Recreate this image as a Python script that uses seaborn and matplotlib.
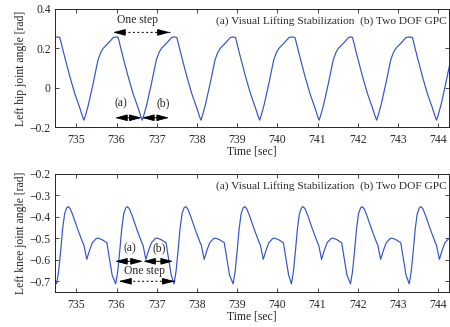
import matplotlib
matplotlib.use("Agg")
import matplotlib.pyplot as plt
import seaborn as sns
import numpy as np
import pandas as pd

# ---------------- data ----------------
hip_time = [
    734.46, 734.53,
    734.59, 734.71, 734.84, 734.96, 735.09, 735.16, 735.19, 735.23, 735.30, 735.42, 735.54, 735.61, 735.67, 735.83, 735.92, 735.99,
    736.04, 736.16, 736.29, 736.41, 736.54, 736.61, 736.64, 736.68, 736.75, 736.87, 736.99, 737.06, 737.12, 737.28, 737.37, 737.44,
    737.50, 737.62, 737.75, 737.87, 738.00, 738.07, 738.10, 738.14, 738.21, 738.33, 738.45, 738.52, 738.58, 738.74, 738.83, 738.90,
    738.96, 739.08, 739.21, 739.33, 739.46, 739.53, 739.56, 739.60, 739.67, 739.79, 739.91, 739.98, 740.04, 740.20, 740.29, 740.36,
    740.44, 740.56, 740.69, 740.81, 740.94, 741.01, 741.04, 741.08, 741.15, 741.27, 741.39, 741.46, 741.52, 741.68, 741.77, 741.84,
    741.87, 741.99, 742.12, 742.24, 742.37, 742.44, 742.47, 742.51, 742.58, 742.70, 742.82, 742.89, 742.95, 743.11, 743.20, 743.27,
    743.36, 743.48, 743.61, 743.73, 743.86, 743.93, 743.96, 744.00, 744.07, 744.19, 744.31, 744.38,
]
hip_angle = [
    0.256, 0.258,
    0.255, 0.157, 0.056, -0.029, -0.105, -0.150, -0.165, -0.140, -0.088, 0.022, 0.141, 0.180, 0.200, 0.234, 0.255, 0.258,
    0.255, 0.157, 0.056, -0.029, -0.105, -0.150, -0.165, -0.140, -0.088, 0.022, 0.141, 0.180, 0.200, 0.234, 0.255, 0.258,
    0.255, 0.157, 0.056, -0.029, -0.105, -0.150, -0.165, -0.140, -0.088, 0.022, 0.141, 0.180, 0.200, 0.234, 0.255, 0.258,
    0.255, 0.157, 0.056, -0.029, -0.105, -0.150, -0.165, -0.140, -0.088, 0.022, 0.141, 0.180, 0.200, 0.234, 0.255, 0.258,
    0.255, 0.157, 0.056, -0.029, -0.105, -0.150, -0.165, -0.140, -0.088, 0.022, 0.141, 0.180, 0.200, 0.234, 0.255, 0.258,
    0.255, 0.157, 0.056, -0.029, -0.105, -0.150, -0.165, -0.140, -0.088, 0.022, 0.141, 0.180, 0.200, 0.234, 0.255, 0.258,
    0.255, 0.157, 0.056, -0.029, -0.105, -0.150, -0.165, -0.140, -0.088, 0.022, 0.141, 0.180,
]

knee_time = [
    734.46,
    734.51, 734.56, 734.61, 734.66, 734.71, 734.76, 734.80, 734.85, 734.92, 735.04, 735.16, 735.19, 735.26, 735.33, 735.40, 735.50, 735.54, 735.63, 735.76, 735.83, 735.89,
    735.98, 736.03, 736.08, 736.13, 736.18, 736.23, 736.27, 736.32, 736.39, 736.51, 736.63, 736.66, 736.73, 736.80, 736.87, 736.97, 737.01, 737.10, 737.23, 737.30, 737.36,
    737.43, 737.48, 737.53, 737.58, 737.63, 737.68, 737.72, 737.77, 737.84, 737.96, 738.08, 738.11, 738.18, 738.25, 738.32, 738.42, 738.46, 738.55, 738.68, 738.75, 738.81,
    738.90, 738.95, 739.00, 739.05, 739.10, 739.15, 739.19, 739.24, 739.31, 739.43, 739.55, 739.58, 739.65, 739.72, 739.79, 739.89, 739.93, 740.02, 740.15, 740.22, 740.28,
    740.35, 740.40, 740.45, 740.50, 740.55, 740.60, 740.64, 740.69, 740.76, 740.88, 741.00, 741.03, 741.10, 741.17, 741.24, 741.34, 741.38, 741.47, 741.60, 741.67, 741.73,
    741.82, 741.87, 741.92, 741.97, 742.02, 742.07, 742.11, 742.16, 742.23, 742.35, 742.47, 742.50, 742.57, 742.64, 742.71, 742.81, 742.85, 742.94, 743.07, 743.14, 743.20,
    743.28, 743.33, 743.38, 743.43, 743.48, 743.53, 743.57, 743.62, 743.69, 743.81, 743.93, 743.96, 744.03, 744.10, 744.17, 744.27, 744.31,
]
knee_angle = [
    -0.690,
    -0.712, -0.655, -0.560, -0.455, -0.385, -0.358, -0.352, -0.362, -0.395, -0.460, -0.520, -0.532, -0.598, -0.555, -0.520, -0.500, -0.499, -0.505, -0.520, -0.600, -0.670,
    -0.712, -0.655, -0.560, -0.455, -0.385, -0.358, -0.352, -0.362, -0.395, -0.460, -0.520, -0.532, -0.598, -0.555, -0.520, -0.500, -0.499, -0.505, -0.520, -0.600, -0.670,
    -0.712, -0.655, -0.560, -0.455, -0.385, -0.358, -0.352, -0.362, -0.395, -0.460, -0.520, -0.532, -0.598, -0.555, -0.520, -0.500, -0.499, -0.505, -0.520, -0.600, -0.670,
    -0.712, -0.655, -0.560, -0.455, -0.385, -0.358, -0.352, -0.362, -0.395, -0.460, -0.520, -0.532, -0.598, -0.555, -0.520, -0.500, -0.499, -0.505, -0.520, -0.600, -0.670,
    -0.712, -0.655, -0.560, -0.455, -0.385, -0.358, -0.352, -0.362, -0.395, -0.460, -0.520, -0.532, -0.598, -0.555, -0.520, -0.500, -0.499, -0.505, -0.520, -0.600, -0.670,
    -0.712, -0.655, -0.560, -0.455, -0.385, -0.358, -0.352, -0.362, -0.395, -0.460, -0.520, -0.532, -0.598, -0.555, -0.520, -0.500, -0.499, -0.505, -0.520, -0.600, -0.670,
    -0.712, -0.655, -0.560, -0.455, -0.385, -0.358, -0.352, -0.362, -0.395, -0.460, -0.520, -0.532, -0.598, -0.555, -0.520, -0.500, -0.499,
]

x_ticks = [735, 736, 737, 738, 739, 740, 741, 742, 743, 744]
hip_yticks = [-0.2, 0, 0.2, 0.4]
knee_yticks = [-0.7, -0.6, -0.5, -0.4, -0.3, -0.2]
hip_ylabel = "Left hip joint angle [rad]"
knee_ylabel = "Left knee joint angle [rad]"
x_label = "Time [sec]"
legend_text = "(a) Visual Lifting Stabilization  (b) Two DOF GPC"

# ---------------- style ----------------
sns.set_style("ticks")
plt.rcParams["font.family"] = ["Liberation Serif", "DejaVu Serif"]
plt.rcParams["axes.unicode_minus"] = True
LINE = "#3354c6"
FS = 8.4

fig = plt.figure(figsize=(4.5, 3.27), dpi=100)
ax1 = fig.add_axes([0.1222, 0.6116, 0.8756, 0.3609])
ax2 = fig.add_axes([0.1222, 0.1070, 0.8756, 0.3609])

hip_df = pd.DataFrame({"t": hip_time, "v": hip_angle})
knee_df = pd.DataFrame({"t": knee_time, "v": knee_angle})
sns.lineplot(data=hip_df, x="t", y="v", ax=ax1, color=LINE, lw=0.85, estimator=None, sort=False)
sns.lineplot(data=knee_df, x="t", y="v", ax=ax2, color=LINE, lw=0.85, estimator=None, sort=False)


def fmt(v):
    if abs(v) < 1e-9:
        return "0"
    return ("%g" % v).replace("-", "\u2212")


for ax, yt, yl, ylim in ((ax1, hip_yticks, hip_ylabel, (-0.2, 0.4)),
                          (ax2, knee_yticks, knee_ylabel, (-0.75, -0.2))):
    ax.set_xlim(734.47, 744.27)
    ax.set_ylim(*ylim)
    ax.set_xticks(x_ticks)
    ax.set_xticklabels([str(t) for t in x_ticks], fontsize=FS)
    ax.set_yticks(yt)
    ax.set_yticklabels([fmt(v) for v in yt], fontsize=FS)
    ax.tick_params(axis="x", direction="in", top=True, length=3, width=0.6, pad=5)
    ax.tick_params(axis="y", direction="in", right=True, length=3, width=0.6, pad=3)
    for s in ax.spines.values():
        s.set_visible(True)
        s.set_linewidth(0.7)
    ax.set_xlabel(x_label, fontsize=FS, labelpad=0)
    ax.set_ylabel(yl, fontsize=FS, labelpad=2)
    ax.text(0.993, 0.94, legend_text, transform=ax.transAxes, ha="right", va="top", fontsize=FS - 0.2)

head = dict(arrowstyle="-|>,head_length=0.75,head_width=0.2", color="black", lw=0.7,
            shrinkA=0, shrinkB=0)
dbl = dict(arrowstyle="<|-|>,head_length=0.75,head_width=0.2", color="black", lw=0.7,
           shrinkA=0, shrinkB=0)


def dotted_double(ax, x0, x1, y):
    ax.annotate("", xy=(x0, y), xytext=(x1, y),
                arrowprops=dict(arrowstyle="-", color="black", lw=0.8, ls=(0, (1, 3)),
                                shrinkA=0, shrinkB=0))
    ax.annotate("", xy=(x0, y), xytext=(x0 + 0.25, y), arrowprops=head)
    ax.annotate("", xy=(x1, y), xytext=(x1 - 0.25, y), arrowprops=head)


# top panel annotations
dotted_double(ax1, 735.91, 737.33, 0.281)
ax1.text(736.53, 0.344, "One step", ha="center", va="center", fontsize=FS)
ax1.annotate("", xy=(735.96, -0.153), xytext=(736.63, -0.153), arrowprops=dbl)
ax1.annotate("", xy=(736.63, -0.153), xytext=(737.31, -0.153), arrowprops=dbl)
ax1.text(736.12, -0.08, "(a)", ha="center", va="center", fontsize=FS)
ax1.text(737.16, -0.08, "(b)", ha="center", va="center", fontsize=FS)

# bottom panel annotations
ax2.annotate("", xy=(735.96, -0.607), xytext=(736.66, -0.607), arrowprops=dbl)
ax2.annotate("", xy=(736.66, -0.607), xytext=(737.41, -0.607), arrowprops=dbl)
ax2.text(736.33, -0.545, "(a)", ha="center", va="center", fontsize=FS)
ax2.text(737.06, -0.545, "(b)", ha="center", va="center", fontsize=FS)
ax2.text(736.70, -0.652, "One step", ha="center", va="center", fontsize=FS)
dotted_double(ax2, 736.06, 737.45, -0.700)

fig.savefig("out.png", dpi=100)
